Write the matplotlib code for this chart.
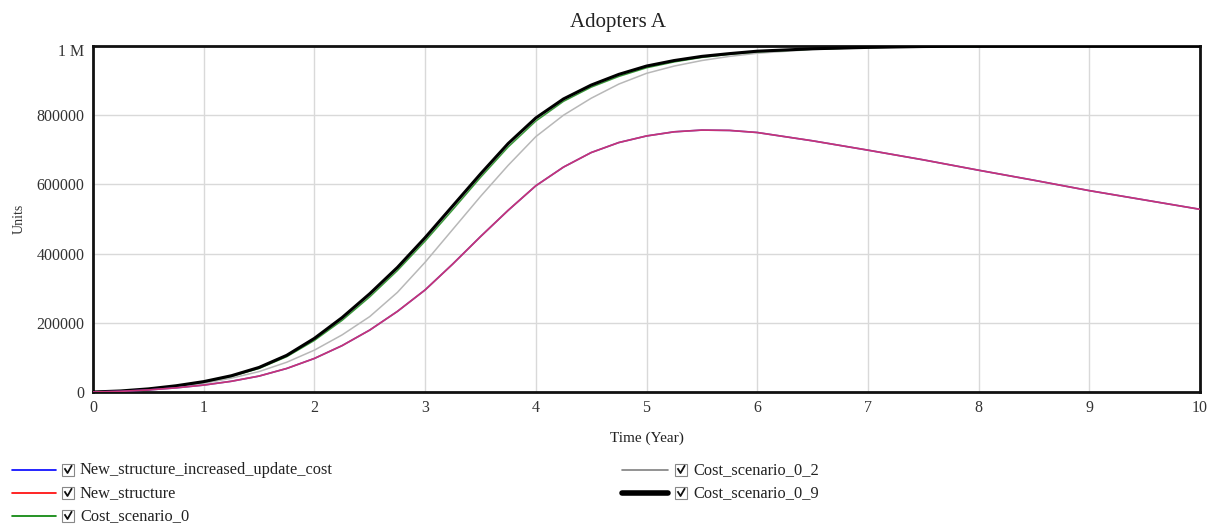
import matplotlib
matplotlib.use("Agg")
import matplotlib.pyplot as plt
from matplotlib.lines import Line2D
from matplotlib.patches import Rectangle
import matplotlib.transforms as mtransforms

# ---- data ----
time = [0, 0.25, 0.5, 0.75, 1, 1.25, 1.5, 1.75, 2, 2.25, 2.5, 2.75, 3, 3.25, 3.5, 3.75,
        4, 4.25, 4.5, 4.75, 5, 5.25, 5.5, 5.75, 6, 6.5, 7, 7.5, 8, 8.5, 9, 9.5, 10]
cost_0_9 = [0, 3000, 9000, 18000, 30000, 47000, 71000, 106000, 155000, 215000, 284000,
            360000, 446000, 538000, 630000, 718000, 792000, 847000, 887000, 918000, 942000,
            958000, 970000, 978000, 985000, 992000, 996000, 998500, 999500, 1000000,
            1000000, 1000000, 1000000]
cost_0 = [0, 2800, 8500, 17000, 28500, 45000, 68000, 102000, 149000, 207000, 275000,
          351000, 436000, 527000, 620000, 708000, 783000, 840000, 881000, 912000, 937000,
          954000, 967000, 976000, 983000, 991000, 995500, 998000, 999300, 999800,
          1000000, 1000000, 1000000]
cost_0_2 = [0, 2500, 7500, 15000, 25000, 40000, 59000, 86000, 121000, 165000, 218000,
            288000, 375000, 470000, 565000, 655000, 738000, 800000, 849000, 890000, 921000,
            942000, 958000, 970000, 979000, 990000, 995000, 998000, 999300, 999800,
            1000000, 1000000, 1000000]
new_structure = [0, 2000, 6000, 12000, 20000, 31000, 46000, 68000, 97000, 134000, 179000,
                 233000, 295000, 370000, 449000, 525000, 596000, 650000, 692000, 721000,
                 740000, 752000, 757000, 756000, 750000, 726000, 699000, 671000, 641000,
                 612000, 582000, 555000, 528000]
new_structure_inc = list(new_structure)

xticks = [0, 1, 2, 3, 4, 5, 6, 7, 8, 9, 10]
yticks = [0, 200000, 400000, 600000, 800000, 1000000]
ytick_labels = ["0", "200000", "400000", "600000", "800000", "1 M"]

series = [
    ("New_structure_increased_update_cost", "#0000ff", 1.2),
    ("New_structure", "#ff0000", 1.2),
    ("Cost_scenario_0", "#008000", 1.2),
    ("Cost_scenario_0_2", "#808080", 1.2),
    ("Cost_scenario_0_9", "#000000", 4.0),
]

plt.rcParams['font.family'] = ['Liberation Serif', 'DejaVu Serif']
W, H = 1216, 524
fig = plt.figure(figsize=(W / 100, H / 100), dpi=100)
ax = fig.add_axes([93 / W, 1 - 392 / H, (1200 - 93) / W, (392 - 46) / H])

txtc = "#333333"
ax.plot(time, cost_0_2, color="#b8b8b8", lw=1.1, zorder=3)
ax.plot(time, cost_0, color="#3a9a3a", lw=1.1, zorder=3)
ax.plot(time, cost_0_9, color="#000000", lw=2.2, zorder=4)
ax.plot(time, new_structure_inc, color="#4040c0", lw=1.2, zorder=5)
ax.plot(time, new_structure, color="#e0306a", lw=1.2, alpha=0.85, zorder=6)

ax.set_xlim(0, 10)
ax.set_ylim(0, 1000000)
ax.set_xticks(xticks)
ax.set_xticklabels([str(x) for x in xticks])
ax.set_yticks(yticks)
ax.set_yticklabels(ytick_labels)
ax.grid(True, color="#d9d9d9", lw=1.0, zorder=0)
ax.tick_params(length=0, labelsize=11.5, colors=txtc, pad=6)
for s in ax.spines.values():
    s.set_linewidth(2.0)
    s.set_color("#111111")

# shift "1 M" slightly down like the reference
lab = ax.get_yticklabels()[-1]
lab.set_transform(lab.get_transform() + mtransforms.ScaledTranslation(0, -4 / 100, fig.dpi_scale_trans))

fig.text(618 / W, 1 - 22 / H, "Adopters A", fontsize=15, color="#222222", ha="center", va="center")
ax.set_xlabel("Time (Year)", fontsize=11, color="#222222", labelpad=11)
ax.set_ylabel("Units", fontsize=10, color=txtc, labelpad=8)

# ---- legend (manual, figure coords) ----
def fx(px):
    return px / W

def fy(py):
    return 1 - py / H

legend_pos = [
    (12, 56, 470, 62, 80),
    (12, 56, 493, 62, 80),
    (12, 56, 516, 62, 80),
    (622, 668, 470, 675, 693),
    (622, 668, 493, 675, 693),
]
for (label, col, lw), (x0, x1, y, cbx, tx) in zip(series, legend_pos):
    fig.add_artist(Line2D([fx(x0), fx(x1)], [fy(y), fy(y)], color=col, lw=lw,
                          solid_capstyle="round"))
    fig.add_artist(Rectangle((fx(cbx), fy(y + 6)), 12 / W, 12 / H, fill=False,
                             edgecolor="#888888", lw=0.8))
    fig.add_artist(Line2D([fx(cbx + 3), fx(cbx + 5.5), fx(cbx + 9.5)],
                          [fy(y - 1), fy(y + 3), fy(y - 4)], color="#111111", lw=1.3))
    fig.text(fx(tx), fy(y), label, fontsize=11.8, color="#222222", va="center", ha="left")

fig.savefig("out.png", dpi=100)
